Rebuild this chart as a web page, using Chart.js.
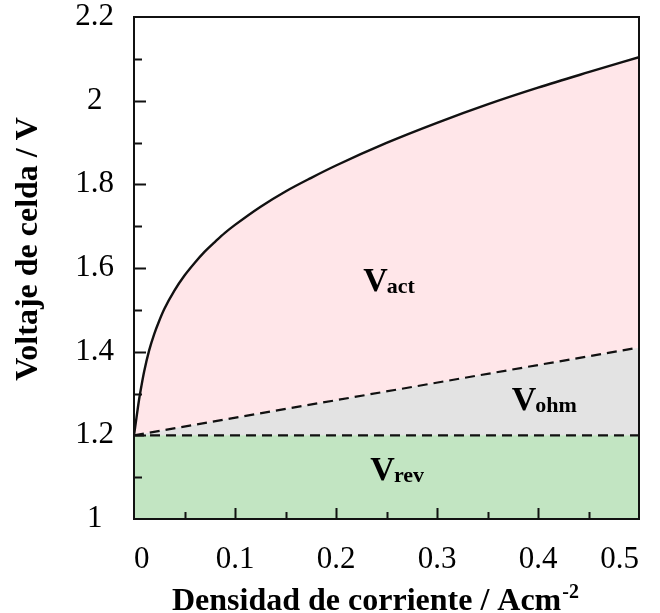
<!DOCTYPE html>
<html>
<head>
<meta charset="utf-8">
<script src="https://cdn.jsdelivr.net/npm/chart.js@4"></script>
<style>
  html, body { margin: 0; padding: 0; background: #fff; }
  #wrap { width: 660px; height: 613px; }
</style>
</head>
<body>
<div id="wrap"><canvas id="myChart" width="660" height="613"></canvas></div>
<script>
// densidad de corriente (A/cm2) y voltaje total de celda (V)
var currentDensity = [0, 0.0025, 0.005, 0.0075, 0.01, 0.015, 0.02, 0.025, 0.03, 0.04, 0.05, 0.06, 0.07, 0.08, 0.09, 0.1,
    0.125, 0.15, 0.175, 0.2, 0.25, 0.3, 0.35, 0.4, 0.45, 0.5];
var cellVoltage = [1.2, 1.243, 1.285, 1.32, 1.352, 1.403, 1.442, 1.474, 1.502, 1.546, 1.582, 1.612, 1.639, 1.662, 1.684, 1.703,
    1.746, 1.783, 1.815, 1.845, 1.899, 1.947, 1.991, 2.031, 2.068, 2.104];

// recta ohmica y voltaje reversible
var ohmicCurrent = [0, 0.5];
var ohmicVoltage = [1.2, 1.41];
var revCurrent = [0, 0.5];
var revVoltage = [1.2, 1.2];

var yTicks = [1, 1.2, 1.4, 1.6, 1.8, 2, 2.2];
var xTicks = [0, 0.1, 0.2, 0.3, 0.4, 0.5];

function toPoints(xs, ys) {
    var pts = [];
    xs.forEach((x, i) => {
        pts.push({ x: x, y: ys[i] });
    });
    return pts;
}

var serif = "'Liberation Serif', 'Times New Roman', serif";

// sin relleno extra alrededor de los ejes, el margen lo pone layout.padding
function noScalePadding(scale) {
    scale.paddingTop = 0;
    scale.paddingBottom = 0;
    scale.paddingLeft = 0;
    scale.paddingRight = 0;
}

// marcas hacia dentro, marco y textos
var decorations = {
    id: "decorations",
    afterDatasetsDraw: function (chart) {
        var ctx = chart.ctx;
        var area = chart.chartArea;
        var xs = chart.scales.x;
        var ys = chart.scales.y;

        ctx.save();
        ctx.strokeStyle = "#111";
        ctx.lineWidth = 2;
        ctx.beginPath();
        for (var i = 1; i < 12; i++) {
            var py = Math.round(ys.getPixelForValue(1 + i * 0.1)) + 0.5;
            var len = i % 2 === 0 ? 12 : 8;
            ctx.moveTo(area.left, py);
            ctx.lineTo(area.left + len, py);
        }
        for (var k = 1; k < 10; k++) {
            var px = Math.round(xs.getPixelForValue(k * 0.05)) + 0.5;
            var l = k % 2 === 0 ? 11 : 7;
            ctx.moveTo(px, area.bottom);
            ctx.lineTo(px, area.bottom - l);
        }
        ctx.stroke();

        ctx.strokeRect(area.left, area.top, area.right - area.left, area.bottom - area.top);

        // etiquetas de cada zona
        var regions = [
            { main: "V", sub: "act", x: 0.227, y: 1.545 },
            { main: "V", sub: "ohm", x: 0.374, y: 1.26 },
            { main: "V", sub: "rev", x: 0.234, y: 1.093 },
        ];
        ctx.fillStyle = "#000";
        ctx.textBaseline = "alphabetic";
        ctx.textAlign = "left";
        regions.forEach((r) => {
            var px = xs.getPixelForValue(r.x);
            var py = ys.getPixelForValue(r.y);
            ctx.font = "bold 34px " + serif;
            ctx.fillText(r.main, px, py);
            var w = ctx.measureText(r.main).width;
            ctx.font = "bold 22px " + serif;
            ctx.fillText(r.sub, px + w - 1, py + 2);
        });

        // titulo eje y
        ctx.save();
        ctx.translate(37, (area.top + area.bottom) / 2 - 19);
        ctx.rotate(-Math.PI / 2);
        ctx.textAlign = "center";
        ctx.font = "bold 32px " + serif;
        ctx.fillText("Voltaje de celda / V", 0, 0);
        ctx.restore();

        // titulo eje x con superindice
        ctx.font = "bold 32px " + serif;
        var t = "Densidad de corriente / Acm";
        ctx.fillText(t, 172, 610);
        var tw = ctx.measureText(t).width;
        ctx.font = "bold 20px " + serif;
        ctx.fillText("-2", 172 + tw + 1, 598);
        ctx.restore();
    },
};

const ctx = document.getElementById("myChart").getContext("2d");
const myChart = new Chart(ctx, {
    type: "line",
    plugins: [decorations],
    data: {
        datasets: [
            {
                label: "Vrev",
                data: toPoints(revCurrent, revVoltage),
                borderColor: "#111",
                borderWidth: 2.2,
                borderDash: [10, 6],
                backgroundColor: "#C2E5C2",
                fill: "start",
                pointRadius: 0,
                order: 1,
            },
            {
                label: "Vohm",
                data: toPoints(ohmicCurrent, ohmicVoltage),
                borderColor: "#111",
                borderWidth: 2.2,
                borderDash: [10, 6],
                backgroundColor: "#E3E3E3",
                fill: "-1",
                pointRadius: 0,
                order: 2,
            },
            {
                label: "Vact",
                data: toPoints(currentDensity, cellVoltage),
                borderColor: "#111",
                borderWidth: 2.4,
                backgroundColor: "#FFE6E9",
                fill: "-1",
                pointRadius: 0,
                cubicInterpolationMode: "monotone",
                order: 3,
            },
        ],
    },
    options: {
        responsive: false,
        animation: false,
        layout: {
            padding: { top: 17, right: 21, left: 0, bottom: 0 },
        },
        plugins: {
            legend: { display: false },
            tooltip: { enabled: false },
        },
        scales: {
            x: {
                type: "linear",
                min: 0,
                max: 0.5,
                afterBuildTicks: function (scale) {
                    scale.ticks = xTicks.map((v) => ({ value: v }));
                },
                afterFit: function (scale) {
                    scale.height = 94;
                    noScalePadding(scale);
                },
                grid: { display: false },
                border: { display: true, color: "#111", width: 2 },
                ticks: {
                    color: "#000",
                    padding: 14,
                    align: "inner",
                    maxRotation: 0,
                    font: { family: serif, size: 31 },
                    callback: function (value) {
                        return String(value);
                    },
                },
            },
            y: {
                min: 1,
                max: 2.2,
                afterBuildTicks: function (scale) {
                    scale.ticks = yTicks.map((v) => ({ value: v }));
                },
                afterFit: function (scale) {
                    scale.width = 134;
                    noScalePadding(scale);
                },
                grid: { display: false },
                border: { display: true, color: "#111", width: 2 },
                ticks: {
                    color: "#000",
                    padding: 12,
                    crossAlign: "center",
                    font: { family: serif, size: 31 },
                    callback: function (value) {
                        return String(value);
                    },
                },
            },
        },
    },
});
</script>
</body>
</html>
